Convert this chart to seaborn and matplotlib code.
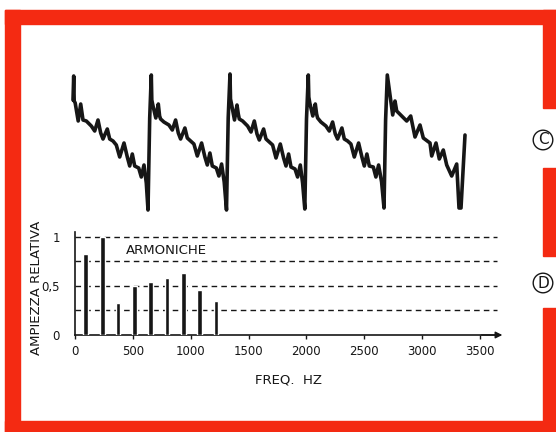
import pandas as pd
import seaborn as sns
import matplotlib.pyplot as plt
from matplotlib.patches import Rectangle

# upper trace: waveform, one list per cycle (t in ms, a in arbitrary units)
cycle1_t = [0.00, 0.07, 0.12, 0.22, 0.52, 0.77, 0.90, 1.00, 1.33, 1.83, 2.17, 2.50, 2.77, 3.00, 3.43,
            3.67, 4.00, 4.33, 4.67, 5.10, 5.43, 5.67, 5.93, 6.17, 6.57, 6.83, 7.10, 7.33, 7.50, 7.67]
cycle1_a = [4.2, 6.6, 4.1, 3.9, 2.1, 3.8, 2.9, 2.2, 2.1, 1.6, 1.1, 2.2, 0.9, 0.3, 1.3,
            0.3, 0.1, -0.3, -1.5, -0.1, -1.5, -2.4, -1.2, -2.4, -2.6, -3.5, -2.3, -4.1, -6.8, 2.4]
cycle2_t = [7.83, 7.88, 7.98, 8.28, 8.53, 8.66, 8.76, 9.09, 9.59, 9.93, 10.26, 10.53, 10.76, 11.19, 11.43,
            11.76, 12.09, 12.43, 12.86, 13.19, 13.43, 13.69, 13.93, 14.33, 14.59, 14.86, 15.12, 15.35, 15.52]
cycle2_a = [6.7, 4.2, 3.7, 2.4, 3.8, 2.6, 2.3, 2.0, 1.7, 1.2, 2.2, 0.9, 0.3, 1.4, 0.4,
            0.1, -0.2, -1.4, -0.1, -1.5, -2.3, -1.1, -2.4, -2.6, -3.4, -2.2, -4.0, -6.8, 2.4]
cycle3_t = [15.70, 15.75, 15.85, 16.15, 16.40, 16.53, 16.63, 16.96, 17.46, 17.80, 18.13, 18.40, 18.63, 19.06, 19.30,
            19.63, 19.96, 20.30, 20.73, 21.06, 21.30, 21.56, 21.80, 22.20, 22.46, 22.73, 22.96, 23.18, 23.35]
cycle3_a = [6.8, 4.3, 3.8, 2.2, 3.7, 2.8, 2.3, 2.1, 1.6, 1.0, 2.1, 0.8, 0.2, 1.3, 0.3,
            0.0, -0.3, -1.6, -0.2, -1.6, -2.4, -1.2, -2.5, -2.7, -3.5, -2.3, -4.1, -6.7, 2.3]
cycle4_t = [23.53, 23.58, 23.68, 23.98, 24.23, 24.36, 24.46, 24.79, 25.29, 25.63, 25.96, 26.23, 26.46, 26.89, 27.13,
            27.46, 27.79, 28.13, 28.56, 28.89, 29.13, 29.39, 29.63, 30.03, 30.29, 30.56, 30.86, 31.10, 31.26]
cycle4_a = [6.7, 4.5, 3.9, 2.6, 3.8, 2.8, 2.4, 2.0, 1.6, 1.1, 2.0, 0.8, 0.3, 1.4, 0.3,
            0.1, -0.2, -1.5, -0.1, -1.5, -2.4, -1.2, -2.4, -2.5, -3.5, -2.3, -4.0, -6.6, 2.2]
cycle5_t = [31.43, 31.70, 31.97, 32.20, 32.37, 32.87, 33.37, 33.77, 34.20, 34.70, 35.03,
            35.70, 35.87, 36.30, 36.63, 37.03, 37.37, 37.87, 38.37, 38.60, 38.80, 39.20]
cycle5_a = [6.7, 4.7, 2.7, 4.1, 3.1, 2.6, 2.1, 2.6, 0.5, 1.7, 0.4,
            -0.1, -1.4, -0.1, -1.7, -0.8, -2.3, -3.4, -2.2, -6.6, -6.6, 0.7]

# lower chart: harmonic spectrum
harm_freq = [92, 236, 372, 513, 651, 795, 936, 1078, 1219]
harm_amp = [0.83, 1.0, 0.33, 0.50, 0.54, 0.58, 0.63, 0.46, 0.35]
grid_levels = [0.25, 0.5, 0.75, 1.0]
x_ticks = [0, 500, 1000, 1500, 2000, 2500, 3000, 3500]
y_ticks = [0, 0.5, 1]
y_tick_labels = ['0', '0,5', '1']

wave = pd.DataFrame({
    't': cycle1_t + cycle2_t + cycle3_t + cycle4_t + cycle5_t,
    'a': cycle1_a + cycle2_a + cycle3_a + cycle4_a + cycle5_a,
})

sns.set_theme(style="white")
plt.rcParams['font.family'] = ['DejaVu Sans']
ink = '#161616'
red = '#f42a12'

W, H = 556, 432
fig = plt.figure(figsize=(W / 100, H / 100), dpi=100)
fig.patch.set_facecolor('white')


def px_box(x0, y0, x1, y1):
    # pixel box (top-left origin) -> figure fraction [left, bottom, width, height]
    return [x0 / W, 1 - y1 / H, (x1 - x0) / W, (y1 - y0) / H]


# red frame, open on the right next to the C / D markers
for box in [(5, 10, 556, 24), (5, 10, 20, 432), (5, 421, 556, 432),
            (543, 10, 556, 108), (543, 168, 556, 256), (543, 308, 556, 432)]:
    l, b, w, h = px_box(*box)
    fig.add_artist(Rectangle((l, b), w, h, transform=fig.transFigure, color=red, zorder=0))

for label, ypx in [('C', 140), ('D', 283)]:
    fig.text(543 / W, 1 - ypx / H, label, ha='center', va='center', fontsize=11, color=ink,
             bbox=dict(boxstyle='circle,pad=0.15', fc='white', ec=ink, lw=1))

# waveform
ax_w = fig.add_axes(px_box(63, 62, 473, 222))
sns.lineplot(data=wave, x='t', y='a', sort=False, estimator=None, color=ink, lw=2.6, ax=ax_w)
for ln in ax_w.lines:
    ln.set_solid_joinstyle('round')
ax_w.set_xlim(-1, 40)
ax_w.set_ylim(-8, 8)
ax_w.axis('off')

# spectrum
ax_s = fig.add_axes(px_box(75, 232, 500, 335))
ax_s.bar(harm_freq, harm_amp, width=42, color=ink, zorder=3)
ax_s.hlines(grid_levels, 0, 3650, colors=ink, linestyles=(0, (4, 3)), lw=1)
ax_s.set_xlim(0, 3673)
ax_s.set_ylim(0, 1.05)
ax_s.set_facecolor('none')
sns.despine(ax=ax_s)
for side in ['left', 'bottom']:
    ax_s.spines[side].set_linewidth(1.2)
    ax_s.spines[side].set_color(ink)

ax_s.set_xticks(x_ticks)
ax_s.set_yticks(y_ticks)
ax_s.set_yticklabels(y_tick_labels)
ax_s.tick_params(axis='x', bottom=True, direction='out', length=3, width=1, pad=4,
                 labelsize=8.5, colors=ink)
ax_s.tick_params(axis='y', left=False, pad=5, labelsize=8.5, colors=ink)

ax_s.annotate('', xy=(1.012, 0), xytext=(0.95, 0), xycoords='axes fraction',
              arrowprops=dict(arrowstyle='-|>', color=ink, lw=1, mutation_scale=10))

ax_s.text(440, 0.86, 'ARMONICHE', ha='left', va='center', fontsize=9.5, color=ink)
ax_s.set_ylabel('AMPIEZZA RELATIVA', fontsize=9.5, color=ink)
ax_s.yaxis.set_label_coords(-0.076, 0.46)
ax_s.set_xlabel('FREQ.  HZ', fontsize=9.5, color=ink)
ax_s.xaxis.set_label_coords(0.5035, -0.37)

plt.savefig('out.png', dpi=100)
